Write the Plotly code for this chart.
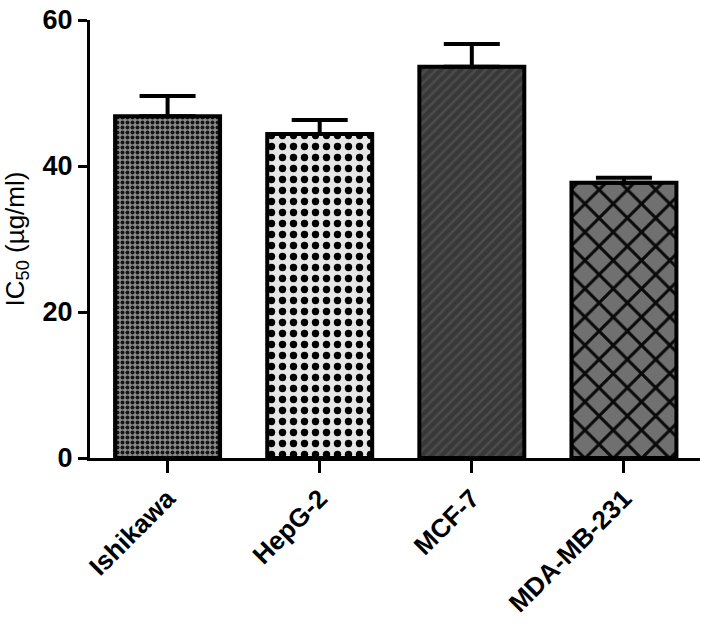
import plotly.graph_objects as go

# IC50 values
cell_lines = ["Ishikawa", "HepG-2", "MCF-7", "MDA-MB-231"]
ic50 = [46.8, 44.4, 53.6, 37.7]
ic50_err = [2.8, 1.9, 3.1, 0.7]

# fill pattern per bar
pattern_shapes = [".", ".", "/", "x"]
pattern_bg = ["#8c8c8c", "#e6e6e6", "#383838", "#707070"]
pattern_fg = ["#151515", "#000000", "#4c4c4c", "#0a0a0a"]
pattern_size = [5, 11, 7, 20]
pattern_solidity = [0.5, 0.35, 0.35, 0.28]

fig = go.Figure()

# one trace per bar, since per-bar pattern colours need scalar values
for i, name in enumerate(cell_lines):
    fig.add_trace(
        go.Bar(
            x=[name],
            y=[ic50[i]],
            width=0.69,
            error_y=dict(
                type="data",
                symmetric=False,
                array=[ic50_err[i]],
                arrayminus=[0],
                color="black",
                thickness=4,
                width=28,
            ),
            marker=dict(
                color=pattern_bg[i],
                line=dict(color="black", width=4),
                pattern=dict(
                    shape=pattern_shapes[i],
                    bgcolor=pattern_bg[i],
                    fgcolor=pattern_fg[i],
                    fgopacity=1,
                    size=pattern_size[i],
                    solidity=pattern_solidity[i],
                    fillmode="overlay",
                ),
            ),
            showlegend=False,
        )
    )

fig.update_layout(
    width=708,
    height=629,
    margin=dict(l=90, r=8, t=20, b=171),
    barmode="overlay",
    plot_bgcolor="white",
    paper_bgcolor="white",
    font=dict(family="Liberation Sans, Arial", color="black"),
)

fig.update_xaxes(
    range=[-0.51, 3.5],
    automargin=False,
    showline=True,
    linecolor="black",
    linewidth=3,
    ticks="outside",
    ticklen=12,
    tickwidth=3,
    tickcolor="black",
    tickangle=-45,
    tickfont=dict(size=26, weight="bold"),
    showgrid=False,
)

fig.update_yaxes(
    range=[0, 60],
    automargin=False,
    tickvals=[0, 20, 40, 60],
    showline=True,
    linecolor="black",
    linewidth=3,
    ticks="outside",
    ticklen=9,
    tickwidth=3,
    tickcolor="black",
    tickfont=dict(size=27, weight="bold"),
    title=dict(text="IC<sub>50</sub> (µg/ml)", font=dict(size=26), standoff=17),
    showgrid=False,
    zeroline=False,
)

# drop the default page margin so the figure fills the window exactly
fig.write_html(
    "out.html",
    config={"displayModeBar": False},
    post_script="document.body.style.margin = '0';",
)
